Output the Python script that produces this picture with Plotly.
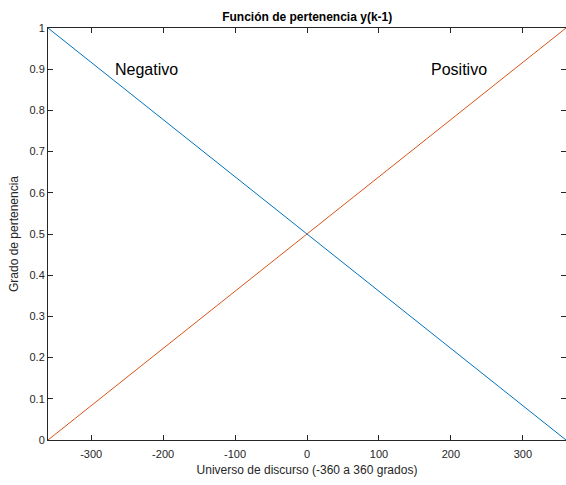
import plotly.graph_objects as go

# Universe of discourse and membership grades
universo = [-360, 360]
negativo = [1, 0]
positivo = [0, 1]
x_ticks = [-300, -200, -100, 0, 100, 200, 300]
x_tick_labels = ["-300", "-200", "-100", "0", "100", "200", "300"]
y_ticks = [0, 0.1, 0.2, 0.3, 0.4, 0.5, 0.6, 0.7, 0.8, 0.9, 1]
y_tick_labels = ["0", "0.1", "0.2", "0.3", "0.4", "0.5", "0.6", "0.7", "0.8", "0.9", "1"]

font_family = "Liberation Sans, Arial, Helvetica, sans-serif"
axis_color = "#262626"

fig = go.Figure()
fig.add_trace(go.Scatter(x=universo, y=negativo, mode="lines", name="Negativo",
                         line=dict(color="#0072BD", width=1)))
fig.add_trace(go.Scatter(x=universo, y=positivo, mode="lines", name="Positivo",
                         line=dict(color="#D95319", width=1)))

fig.add_annotation(x=-270, y=0.9, text="Negativo", showarrow=False, xanchor="left",
                   yanchor="middle", font=dict(size=16, color="black", family=font_family))
fig.add_annotation(x=170, y=0.9, text="Positivo", showarrow=False, xanchor="left",
                   yanchor="middle", font=dict(size=16, color="black", family=font_family))

fig.update_layout(
    width=566, height=485,
    margin=dict(l=48, r=0, t=28, b=45),
    paper_bgcolor="white", plot_bgcolor="white",
    showlegend=False,
    font=dict(family=font_family, color=axis_color, size=11),
    title=dict(text="<b>Función de pertenencia y(k-1)</b>", x=0.5428, xanchor="center",
               y=0.966, yanchor="middle", font=dict(size=12, color="black", family=font_family)),
)
fig.update_xaxes(
    range=universo, tickvals=x_ticks, ticktext=x_tick_labels, ticks="inside", ticklen=5,
    tickcolor=axis_color, showline=True, linecolor=axis_color, linewidth=1, mirror="ticks",
    showgrid=False, zeroline=False, tickfont=dict(size=11, color=axis_color),
    ticklabelstandoff=4,
    title=dict(text="Universo de discurso (-360 a 360 grados)", standoff=6,
               font=dict(size=12, color=axis_color)),
)
fig.update_yaxes(
    range=[0, 1], tickvals=y_ticks, ticktext=y_tick_labels, ticks="inside", ticklen=5,
    tickcolor=axis_color, showline=True, linecolor=axis_color, linewidth=1, mirror="ticks",
    showgrid=False, zeroline=False, tickfont=dict(size=11, color=axis_color),
    title=dict(text="Grado de pertenencia", standoff=8, font=dict(size=12, color=axis_color)),
)

fig.write_html("out.html")
